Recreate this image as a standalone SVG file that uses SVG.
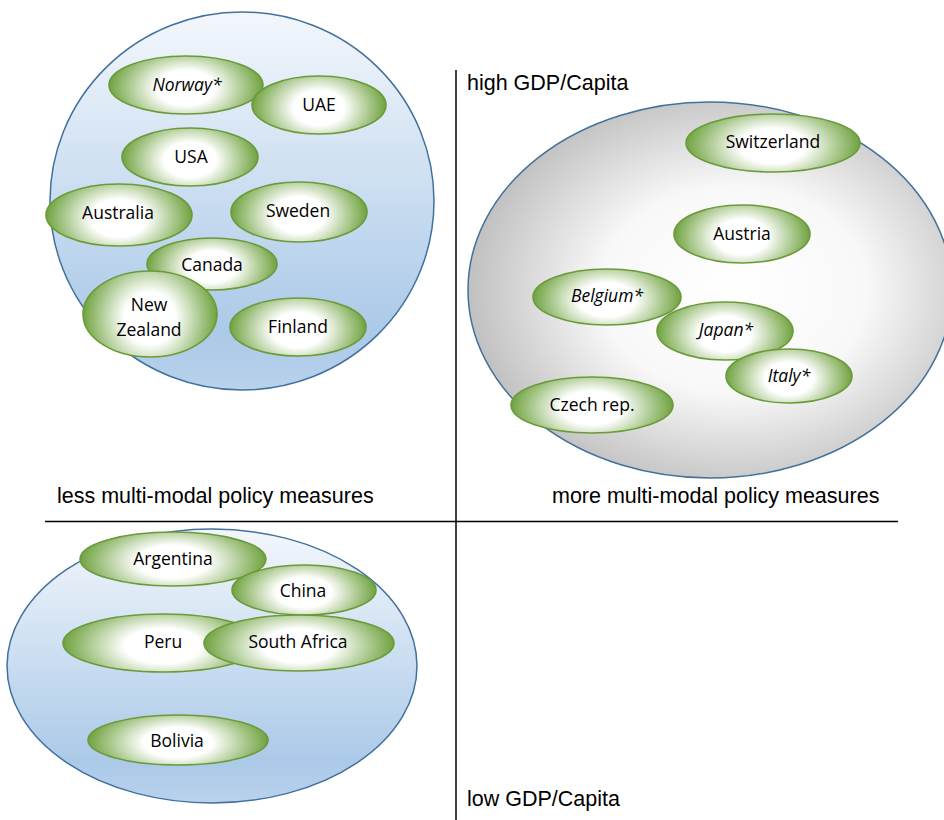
<svg xmlns="http://www.w3.org/2000/svg" width="944" height="820" viewBox="0 0 944 820">
<defs>
<linearGradient id="blue" x1="0" y1="0" x2="0" y2="1">
<stop offset="0" stop-color="#f3f7fc"/>
<stop offset="0.85" stop-color="#abc9e8"/>
<stop offset="1" stop-color="#b9d2ec"/>
</linearGradient>
<radialGradient id="gray" cx="0.55" cy="0.5" r="0.55">
<stop offset="0" stop-color="#ffffff"/>
<stop offset="0.5" stop-color="#f8f8f8"/>
<stop offset="1" stop-color="#c0c0c0"/>
</radialGradient>
<radialGradient id="green" cx="0.5" cy="0.55" r="0.5" gradientTransform="translate(0.5 0.55) scale(1 1.6) translate(-0.5 -0.55)">
<stop offset="0" stop-color="#ffffff"/>
<stop offset="0.38" stop-color="#ffffff"/>
<stop offset="1" stop-color="#70a340"/>
</radialGradient>
</defs>
<style>
.grp{stroke:#41719c;stroke-width:1.5}
.n{fill:url(#green);stroke:#6a9a3a;stroke-width:1.6}
.t{font-family:"Open Sans","Noto Sans",sans-serif;font-size:17.5px;fill:#000;text-anchor:middle}
.i{font-style:italic}
.lbl{font-family:"Liberation Sans",Arial,sans-serif;font-size:21.5px;fill:#000}
.ax{stroke:#000;stroke-width:1.5;fill:none}
</style>
<g id="axes">
<line class="ax" x1="456" y1="70" x2="456" y2="820"/>
<line class="ax" x1="45" y1="521.5" x2="898" y2="521.5"/>
</g>
<g id="labels">
<text class="lbl" x="467" y="90">high GDP/Capita</text>
<text class="lbl" x="57" y="503">less multi-modal policy measures</text>
<text class="lbl" x="552" y="503">more multi-modal policy measures</text>
<text class="lbl" x="467" y="806">low GDP/Capita</text>
</g>
<g id="group-top-left"><ellipse class="grp" cx="242" cy="201" rx="192" ry="189" fill="url(#blue)"/></g>
<g id="group-right"><ellipse class="grp" cx="710" cy="290" rx="242" ry="188" fill="url(#gray)"/></g>
<g id="group-bottom-left"><ellipse class="grp" cx="212" cy="666" rx="205" ry="137" fill="url(#blue)"/></g>

<g id="norway"><ellipse class="n" cx="186" cy="85" rx="77" ry="29"/><text class="t i" x="187" y="91">Norway*</text></g>
<g id="uae"><ellipse class="n" cx="319" cy="105" rx="67" ry="29"/><text class="t" x="319" y="111">UAE</text></g>
<g id="usa"><ellipse class="n" cx="190" cy="157" rx="68" ry="29"/><text class="t" x="191" y="163">USA</text></g>
<g id="australia"><ellipse class="n" cx="119" cy="215" rx="73" ry="31"/><text class="t" x="118" y="219">Australia</text></g>
<g id="sweden"><ellipse class="n" cx="299" cy="212" rx="68" ry="30"/><text class="t" x="298" y="217">Sweden</text></g>
<g id="canada"><ellipse class="n" cx="212" cy="264" rx="65" ry="26"/><text class="t" x="212" y="271">Canada</text></g>
<g id="new-zealand"><ellipse class="n" cx="150" cy="314" rx="67" ry="43"/><text class="t" x="149" y="311">New</text><text class="t" x="149" y="336">Zealand</text></g>
<g id="finland"><ellipse class="n" cx="298" cy="327" rx="68" ry="29"/><text class="t" x="298" y="333">Finland</text></g>

<g id="switzerland"><ellipse class="n" cx="773" cy="143" rx="87" ry="29"/><text class="t" x="773" y="148">Switzerland</text></g>
<g id="austria"><ellipse class="n" cx="742" cy="234" rx="68" ry="29"/><text class="t" x="742" y="240">Austria</text></g>
<g id="belgium"><ellipse class="n" cx="607" cy="297" rx="74" ry="28"/><text class="t i" x="607" y="302">Belgium*</text></g>
<g id="japan"><ellipse class="n" cx="725" cy="331" rx="68" ry="29"/><text class="t i" x="726" y="336">Japan*</text></g>
<g id="italy"><ellipse class="n" cx="789" cy="376" rx="63" ry="27"/><text class="t i" x="789" y="382">Italy*</text></g>
<g id="czech-rep"><ellipse class="n" cx="592" cy="405" rx="81" ry="28"/><text class="t" x="592" y="411">Czech rep.</text></g>

<g id="argentina"><ellipse class="n" cx="173" cy="559" rx="93" ry="27"/><text class="t" x="173" y="565">Argentina</text></g>
<g id="china"><ellipse class="n" cx="304" cy="590" rx="72" ry="25"/><text class="t" x="303" y="597">China</text></g>
<g id="peru"><ellipse class="n" cx="163" cy="643" rx="100" ry="29"/><text class="t" x="163" y="648">Peru</text></g>
<g id="south-africa"><ellipse class="n" cx="299" cy="643" rx="95" ry="28"/><text class="t" x="298" y="648">South Africa</text></g>
<g id="bolivia"><ellipse class="n" cx="178" cy="740" rx="90" ry="25"/><text class="t" x="177" y="747">Bolivia</text></g>
</svg>
